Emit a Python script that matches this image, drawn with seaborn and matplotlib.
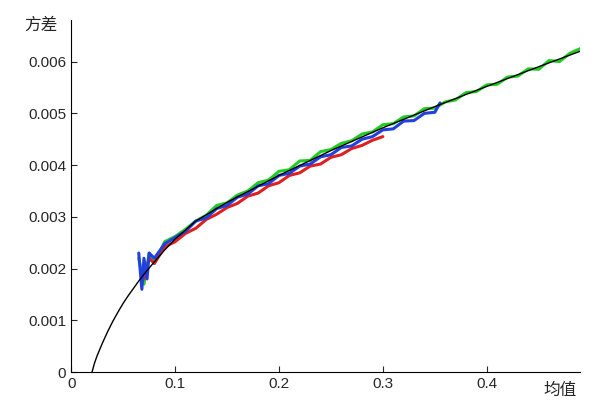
import numpy as np
import pandas as pd
import matplotlib
matplotlib.use('Agg')
import matplotlib.pyplot as plt
import seaborn as sns

# Fitted curve (black)
fit_x = [0.02, 0.0225, 0.025, 0.03, 0.035, 0.04, 0.045, 0.05, 0.055, 0.06, 0.065, 0.07, 0.08, 0.09, 0.10, 0.12, 0.15, 0.20, 0.25, 0.30, 0.35, 0.40, 0.45, 0.49]
fit_y = [0.0, 0.00018, 0.00032, 0.00056, 0.00078, 0.00098, 0.00116, 0.00133, 0.00148, 0.00162, 0.00176, 0.00189, 0.00213, 0.00236, 0.00257, 0.00292, 0.00328, 0.0038, 0.00428, 0.00472, 0.00513, 0.00552, 0.0059, 0.0062]

# Green measurement
green_x = [0.065, 0.07, 0.075, 0.08, 0.09, 0.10, 0.11, 0.12, 0.13, 0.14, 0.15, 0.16, 0.17, 0.18, 0.19, 0.20,
           0.21, 0.22, 0.23, 0.24, 0.25, 0.26, 0.27, 0.28, 0.29, 0.30, 0.31, 0.32, 0.33, 0.34, 0.35,
           0.36, 0.37, 0.38, 0.39, 0.40, 0.41, 0.42, 0.43, 0.44, 0.45, 0.46, 0.47, 0.48, 0.49]
green_y = [0.0022, 0.0017, 0.0023, 0.0021, 0.00252, 0.00262, 0.00276, 0.00292, 0.00303, 0.00322, 0.00327, 0.00342, 0.0035, 0.00366, 0.00371, 0.00388,
           0.00391, 0.00408, 0.00409, 0.00426, 0.0043, 0.00442, 0.00447, 0.0046, 0.00464, 0.00478, 0.0048, 0.00493, 0.00495, 0.00509, 0.0051,
           0.00522, 0.00526, 0.0054, 0.00542, 0.00555, 0.00556, 0.0057, 0.00572, 0.00586, 0.00585, 0.00602, 0.006, 0.00616, 0.00625]

# Red measurement
red_x = [0.07, 0.075, 0.08, 0.09, 0.10, 0.11, 0.12, 0.13, 0.14, 0.15, 0.16, 0.17, 0.18, 0.19, 0.20,
         0.21, 0.22, 0.23, 0.24, 0.25, 0.26, 0.27, 0.28, 0.29, 0.30]
red_y = [0.0018, 0.0022, 0.0021, 0.00242, 0.00252, 0.00268, 0.00278, 0.00295, 0.00305, 0.00318, 0.00326, 0.0034, 0.00346, 0.0036, 0.00366,
         0.0038, 0.00385, 0.00398, 0.00402, 0.00415, 0.0042, 0.00432, 0.00438, 0.00448, 0.00455]

# Blue measurement
blue_x = [0.065, 0.068, 0.07, 0.073, 0.075, 0.08, 0.09, 0.10, 0.11, 0.12, 0.13, 0.14, 0.15, 0.16, 0.17, 0.18, 0.19, 0.20,
          0.21, 0.22, 0.23, 0.24, 0.25, 0.26, 0.27, 0.28, 0.29, 0.30, 0.31, 0.32, 0.33, 0.34, 0.35, 0.355]
blue_y = [0.0023, 0.0016, 0.0022, 0.0018, 0.0023, 0.0022, 0.00248, 0.0026, 0.00272, 0.00292, 0.00298, 0.00316, 0.00322, 0.00338, 0.00344, 0.0036, 0.00364, 0.0038,
          0.00384, 0.00398, 0.00402, 0.00416, 0.0042, 0.00434, 0.00437, 0.0045, 0.00455, 0.00468, 0.0047, 0.00485, 0.00486, 0.005, 0.00502, 0.0052]

sns.set_style('white')
plt.rcParams['font.family'] = ['Liberation Sans', 'Noto Sans CJK SC']

fig = plt.figure(figsize=(6.14, 4.2), dpi=100)
ax = fig.add_axes([0.116, 0.114, 0.829, 0.838])

sns.lineplot(x=green_x, y=green_y, color='#22cc22', linewidth=2.2, ax=ax, sort=False)
sns.lineplot(x=red_x, y=red_y, color='#e02020', linewidth=2.2, ax=ax, sort=False)
sns.lineplot(x=blue_x, y=blue_y, color='#2040e0', linewidth=2.2, ax=ax, sort=False)
sns.lineplot(x=fit_x, y=fit_y, color='black', linewidth=1, ax=ax, sort=False)

ax.set_xlim(0, 0.49)
ax.set_ylim(0, 0.0068)
ax.set_xticks([0, 0.1, 0.2, 0.3, 0.4])
ax.set_xticklabels(['0', '0.1', '0.2', '0.3', '0.4'])
ax.set_yticks([0, 0.001, 0.002, 0.003, 0.004, 0.005, 0.006])
ax.set_yticklabels(['0', '0.001', '0.002', '0.003', '0.004', '0.005', '0.006'])
ax.tick_params(labelsize=11, direction='in', length=4, left=True, bottom=True)
sns.despine(ax=ax)
ax.spines['left'].set_color('black')
ax.spines['bottom'].set_color('black')

fig.text(0.04, 0.93, '方差', fontsize=12, family=['Noto Sans CJK SC'])
fig.text(0.885, 0.06, '均值', fontsize=12, family=['Noto Sans CJK SC'])

fig.savefig('out.png', dpi=100)
